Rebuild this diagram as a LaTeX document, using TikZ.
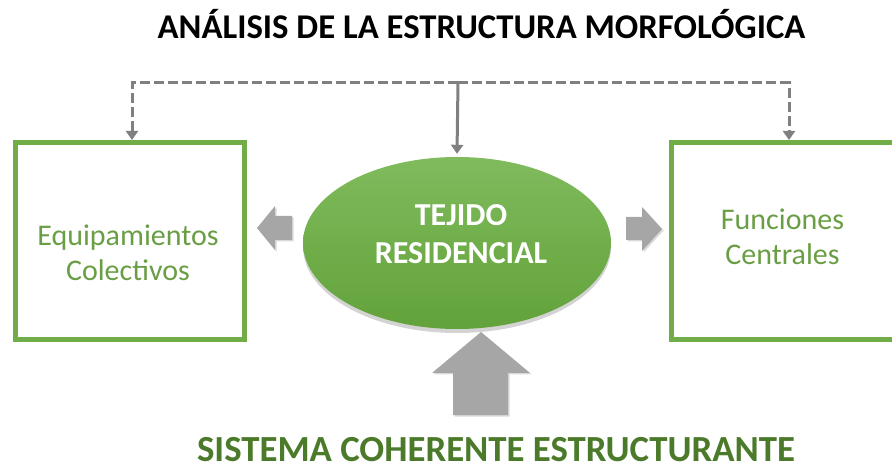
\documentclass[tikz,border=0pt]{standalone}
\usepackage{fontspec}
\setmainfont{Carlito}
\usetikzlibrary{shapes.geometric, arrows.meta, positioning, shadows, calc}
\definecolor{GreenEdge}{HTML}{70AD47}
\definecolor{GreenText}{HTML}{6A9E45}
\definecolor{GreenDark}{HTML}{4B7A2B}
\definecolor{GreenTop}{HTML}{80BB5D}
\definecolor{GreenBot}{HTML}{62A23A}
\definecolor{GreyLine}{HTML}{808080}
\definecolor{GreyArrow}{HTML}{A6A6A6}

\tikzset{
  greenbox/.style={draw=GreenEdge, line width=5pt, minimum width=229pt, minimum height=197pt, inner sep=0pt},
  boxtext/.style={text=GreenText, font=\fontsize{30}{35}\selectfont, align=center},
  blob/.style={ellipse, minimum width=308pt, minimum height=172pt, top color=GreenTop, bottom color=GreenBot,
    draw=none, drop shadow={shadow xshift=0pt, shadow yshift=-4pt, opacity=0.35}},
  blobtext/.style={text=white, font=\bfseries\fontsize{32}{38}\selectfont, align=center},
  dashline/.style={draw=GreyLine, line width=3pt, dash pattern=on 10pt off 4pt, -{Triangle[length=9pt,width=12pt]}},
  solidline/.style={draw=GreyLine, line width=3pt, -{Triangle[length=9pt,width=12pt]}},
  fatarrow/.style={fill=GreyArrow, drop shadow={shadow xshift=1.5pt, shadow yshift=-1.5pt, opacity=0.3}}
}

\begin{document}
\begin{tikzpicture}[x=1pt, y=-1pt]
\useasboundingbox (0,0) rectangle (892,470);

% --- title ---
\node (title) at (481.5,39) [anchor=base, font=\bfseries\fontsize{34.7}{40}\selectfont] {ANÁLISIS DE LA ESTRUCTURA MORFOLÓGICA};

% --- boxes ---
\node[greenbox] (eq) at (130,241) {};
\node[greenbox] (fc) at (786,241) {};
\node[boxtext] (eqtext) at (128,253) {Equipamientos\\Colectivos};
\node[boxtext] (fctext) at (782.5,237) {Funciones\\Centrales};

% --- centre ellipse ---
\node[blob] (tr) at (457,243) {};
\node[blobtext] (trtext) at ([xshift=4pt, yshift=9pt]tr.center) {TEJIDO\\RESIDENCIAL};

% --- top connectors ---
\coordinate (bus) at (458,83);
\draw[dashline] (bus) -| ([xshift=2pt]eq.north);
\draw[dashline] (bus) -| ([xshift=3pt]fc.north);
\draw[solidline] (bus) -- ([yshift=3pt]tr.north);

% --- block arrows ---
\fill[fatarrow] (292,216) -- (275,216) -- (275,206) -- (257,228) -- (275,250) -- (275,240) -- (292,240) -- cycle;
\fill[fatarrow] (626,217) -- (642,217) -- (642,207) -- (662,229) -- (642,251) -- (642,240) -- (626,240) -- cycle;
\fill[fatarrow] (453,415) -- (453,373) -- (432,373) -- (481,332) -- (530,373) -- (508,373) -- (508,415) -- cycle;

% --- bottom caption ---
\node (sistema) at (496,461) [anchor=base, inner sep=0pt, text=GreenDark, font=\bfseries\fontsize{36.8}{42}\selectfont] {SISTEMA COHERENTE ESTRUCTURANTE};

\end{tikzpicture}
\end{document}
